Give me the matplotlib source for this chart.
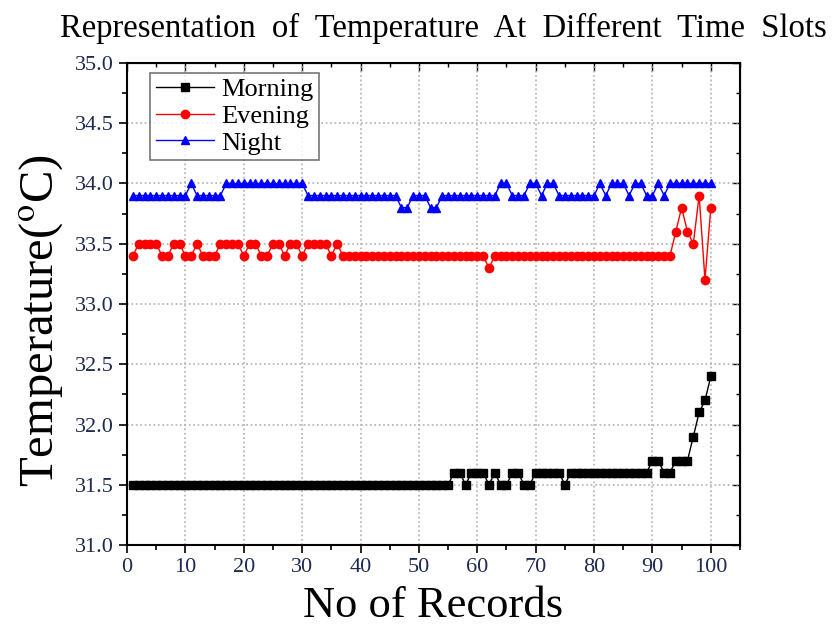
import matplotlib
matplotlib.use("Agg")
import matplotlib.pyplot as plt
from matplotlib.ticker import MultipleLocator, FormatStrFormatter

records = list(range(1, 101))

morning = [
    31.5, 31.5, 31.5, 31.5, 31.5, 31.5, 31.5, 31.5, 31.5, 31.5,
    31.5, 31.5, 31.5, 31.5, 31.5, 31.5, 31.5, 31.5, 31.5, 31.5,
    31.5, 31.5, 31.5, 31.5, 31.5, 31.5, 31.5, 31.5, 31.5, 31.5,
    31.5, 31.5, 31.5, 31.5, 31.5, 31.5, 31.5, 31.5, 31.5, 31.5,
    31.5, 31.5, 31.5, 31.5, 31.5, 31.5, 31.5, 31.5, 31.5, 31.5,
    31.5, 31.5, 31.5, 31.5, 31.5, 31.6, 31.6, 31.5, 31.6, 31.6,
    31.6, 31.5, 31.6, 31.5, 31.5, 31.6, 31.6, 31.5, 31.5, 31.6,
    31.6, 31.6, 31.6, 31.6, 31.5, 31.6, 31.6, 31.6, 31.6, 31.6,
    31.6, 31.6, 31.6, 31.6, 31.6, 31.6, 31.6, 31.6, 31.6, 31.7,
    31.7, 31.6, 31.6, 31.7, 31.7, 31.7, 31.9, 32.1, 32.2, 32.4,
]

evening = [
    33.4, 33.5, 33.5, 33.5, 33.5, 33.4, 33.4, 33.5, 33.5, 33.4,
    33.4, 33.5, 33.4, 33.4, 33.4, 33.5, 33.5, 33.5, 33.5, 33.4,
    33.5, 33.5, 33.4, 33.4, 33.5, 33.5, 33.4, 33.5, 33.5, 33.4,
    33.5, 33.5, 33.5, 33.5, 33.4, 33.5, 33.4, 33.4, 33.4, 33.4,
    33.4, 33.4, 33.4, 33.4, 33.4, 33.4, 33.4, 33.4, 33.4, 33.4,
    33.4, 33.4, 33.4, 33.4, 33.4, 33.4, 33.4, 33.4, 33.4, 33.4,
    33.4, 33.3, 33.4, 33.4, 33.4, 33.4, 33.4, 33.4, 33.4, 33.4,
    33.4, 33.4, 33.4, 33.4, 33.4, 33.4, 33.4, 33.4, 33.4, 33.4,
    33.4, 33.4, 33.4, 33.4, 33.4, 33.4, 33.4, 33.4, 33.4, 33.4,
    33.4, 33.4, 33.4, 33.6, 33.8, 33.6, 33.5, 33.9, 33.2, 33.8,
]

night = [
    33.9, 33.9, 33.9, 33.9, 33.9, 33.9, 33.9, 33.9, 33.9, 33.9,
    34.0, 33.9, 33.9, 33.9, 33.9, 33.9, 34.0, 34.0, 34.0, 34.0,
    34.0, 34.0, 34.0, 34.0, 34.0, 34.0, 34.0, 34.0, 34.0, 34.0,
    33.9, 33.9, 33.9, 33.9, 33.9, 33.9, 33.9, 33.9, 33.9, 33.9,
    33.9, 33.9, 33.9, 33.9, 33.9, 33.9, 33.8, 33.8, 33.9, 33.9,
    33.9, 33.8, 33.8, 33.9, 33.9, 33.9, 33.9, 33.9, 33.9, 33.9,
    33.9, 33.9, 33.9, 34.0, 34.0, 33.9, 33.9, 33.9, 34.0, 34.0,
    33.9, 34.0, 34.0, 33.9, 33.9, 33.9, 33.9, 33.9, 33.9, 33.9,
    34.0, 33.9, 34.0, 34.0, 34.0, 33.9, 34.0, 34.0, 33.9, 33.9,
    34.0, 33.9, 34.0, 34.0, 34.0, 34.0, 34.0, 34.0, 34.0, 34.0,
]

plt.rcParams['font.family'] = ['Liberation Serif', 'DejaVu Serif']
plt.rcParams['mathtext.fontset'] = 'stix'

fig = plt.figure(figsize=(8.34, 6.35), dpi=100)
ax = fig.add_axes([0.1523, 0.1417, 0.735, 0.7591])

ax.plot(records, morning, color='black', marker='s', markersize=5.5, linewidth=1, label='Morning')
ax.plot(records, evening, color='red', marker='o', markersize=6, linewidth=1, label='Evening')
ax.plot(records, night, color='blue', marker='^', markersize=6, linewidth=1, label='Night')

ax.set_xlim(0, 105)
ax.set_ylim(31.0, 35.0)
ax.xaxis.set_major_locator(MultipleLocator(10))
ax.xaxis.set_minor_locator(MultipleLocator(5))
ax.yaxis.set_major_locator(MultipleLocator(0.5))
ax.yaxis.set_minor_locator(MultipleLocator(0.25))
ax.yaxis.set_major_formatter(FormatStrFormatter('%.1f'))

tick_color = '#1f2a50'
ax.tick_params(which='both', direction='out', width=1.2, labelsize=16, labelcolor=tick_color)
ax.tick_params(which='major', length=6)
ax.tick_params(which='minor', length=3.5)

# mirrored ticks pointing inward on top and right
top = ax.secondary_xaxis('top')
top.xaxis.set_major_locator(MultipleLocator(10))
top.xaxis.set_minor_locator(MultipleLocator(5))
top.tick_params(which='both', direction='in', labeltop=False, width=1.0)
top.tick_params(which='major', length=6)
top.tick_params(which='minor', length=3)
right = ax.secondary_yaxis('right')
right.yaxis.set_major_locator(MultipleLocator(0.5))
right.yaxis.set_minor_locator(MultipleLocator(0.25))
right.tick_params(which='both', direction='in', labelright=False, width=1.0)
right.tick_params(which='major', length=6)
right.tick_params(which='minor', length=3)

for s in ax.spines.values():
    s.set_linewidth(1.5)

ax.grid(True, which='major', linestyle=':', color='#b0b0b0', linewidth=1.2)

ax.set_xlabel('No of Records', fontsize=32, labelpad=6)
ax.set_ylabel('Temperature(' + r'$^{\mathrm{o}}$' + 'C)', fontsize=35)
ax.yaxis.set_label_coords(-0.100, 0.465)

fig.text(0.532, 0.955, 'Representation  of  Temperature  At  Different  Time  Slots',
         ha='center', va='center', fontsize=23.5)

leg = ax.legend(loc='upper left', bbox_to_anchor=(0.038, 0.98), fontsize=19,
                frameon=True, fancybox=False, edgecolor='#555555',
                handlelength=2.2, handletextpad=0.3, borderpad=0.2,
                labelspacing=0.12, borderaxespad=0.0)
leg.get_frame().set_linewidth(1.2)

fig.savefig('out.png', dpi=100)
